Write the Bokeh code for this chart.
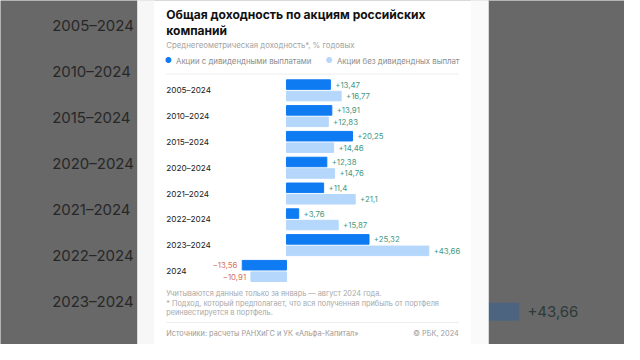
from bokeh.plotting import figure
from bokeh.models import Range1d, ColumnDataSource
from bokeh.core.properties import value
from bokeh.embed import file_html
from bokeh.resources import INLINE

# ---------------- data ----------------
categories = ["2005–2024", "2010–2024", "2015–2024", "2020–2024",
              "2021–2024", "2022–2024", "2023–2024", "2024"]
with_div = [13.47, 13.91, 20.25, 12.38, 11.4, 3.76, 25.32, -13.56]
without_div = [16.77, 12.83, 14.46, 14.76, 21.1, 15.87, 43.66, -10.91]

title_lines = ["Общая доходность по акциям российских", "компаний"]
subtitle = "Среднегеометрическая доходность*, % годовых"
legend_labels = ["Акции с дивидендными выплатами", "Акции без дивидендных выплат"]
notes = ["Учитываются данные только за январь — август 2024 года.",
         "* Подход, который предполагает, что вся полученная прибыль от портфеля",
         "реинвестируется в портфель."]
source_text = "Источники: расчеты РАНХиГС и УК «Альфа-Капитал»"
copyright_text = "© РБК, 2024"

# ---------------- styling / layout ----------------
FONT = value("Inter")
DARK = "#0f7bf2"
LIGHT = "#b5d7fb"
POS = "#3f9a84"
NEG = "#d4705c"

W, H = 624, 344
RW, RH = 640.0, 360.0      # reference layout space, scaled into the figure
K = 0.965                  # font / pixel-offset scale

X0, SX = 293.3, 3.344      # layout px of zero, px per unit
Y0, SY = 94.0, 27.0        # layout px of first category, px per category
BX0, BSX = 272.1, 5.943    # enlarged background copy
BY0, BSY = 27.0, 48.0

def px(X):
    return (X - X0) / SX

def py(Y):
    return (Y - Y0) / SY

def fs(v):
    return f"{v * K:.2f}px"

p = figure(width=W, height=H, output_backend="svg", toolbar_location=None,
           x_range=Range1d((0 - X0) / SX, (RW - X0) / SX),
           y_range=Range1d((RH - Y0) / SY, (0 - Y0) / SY),
           x_axis_location=None, y_axis_location=None, min_border=0)
p.extra_x_ranges = {"bg": Range1d((0 - BX0) / BSX, (RW - BX0) / BSX)}
p.extra_y_ranges = {"bg": Range1d((RH - BY0) / BSY, (0 - BY0) / BSY)}
p.grid.visible = False
p.outline_line_color = None
p.background_fill_color = "#686868"
p.border_fill_color = "#686868"

idx = list(range(len(categories)))
OFF, BH = 0.222, 0.37

def fmt(v):
    s = f"{abs(v):g}".replace(".", ",")
    return ("+" if v >= 0 else "−") + s

# ---------------- enlarged, dimmed background copy ----------------
bg_src = ColumnDataSource(dict(
    y_d=[i - OFF for i in idx], y_l=[i + OFF for i in idx],
    d=with_div, l=without_div))
p.hbar(y="y_d", left=0, right="d", height=BH, source=bg_src, color="#153a66",
       x_range_name="bg", y_range_name="bg")
p.hbar(y="y_l", left=0, right="l", height=BH, source=bg_src, color="#4d6480",
       x_range_name="bg", y_range_name="bg")
bg_lab_i = [i for i in idx if BY0 + BSY * i < RH - 8]
p.text(x=[(53 - BX0) / BSX] * len(bg_lab_i), y=bg_lab_i,
       text=[categories[i] for i in bg_lab_i], text_font=FONT,
       text_font_size=fs(15.5), text_color="#272727", text_baseline="middle",
       x_range_name="bg", y_range_name="bg")
# value labels of the background copy that stick out beyond the card
card_right = 500
vis = [i for i in idx if BX0 + BSX * without_div[i] > card_right]
p.text(x=[without_div[i] for i in vis], y=[i + OFF for i in vis],
       text=[fmt(without_div[i]) for i in vis], x_offset=9 * K,
       text_font=FONT, text_font_size=fs(15.5), text_color="#2b3b38",
       text_baseline="middle", x_range_name="bg", y_range_name="bg")

# ---------------- card ----------------
p.quad(left=px(141), right=px(card_right), top=py(-5), bottom=py(365),
       color="white")
p.quad(left=px(141), right=px(157), top=py(-5), bottom=py(365),
       color="#f7f7f7")
p.quad(left=px(483), right=px(card_right), top=py(-5), bottom=py(365),
       color="#fafafa")

# ---------------- bars ----------------
src = ColumnDataSource(dict(
    y_d=[i - OFF for i in idx], y_l=[i + OFF for i in idx],
    d=with_div, l=without_div,
    d_txt=[fmt(v) for v in with_div], l_txt=[fmt(v) for v in without_div],
    d_al=["left" if v >= 0 else "right" for v in with_div],
    l_al=["left" if v >= 0 else "right" for v in without_div],
    d_off=[5 * K if v >= 0 else -5 * K for v in with_div],
    l_off=[5 * K if v >= 0 else -5 * K for v in without_div],
    d_col=[POS if v >= 0 else NEG for v in with_div],
    l_col=[POS if v >= 0 else NEG for v in without_div],
))
p.hbar(y="y_d", left=0, right="d", height=BH, source=src, color=DARK)
p.hbar(y="y_l", left=0, right="l", height=BH, source=src, color=LIGHT)
p.text(x="d", y="y_d", text="d_txt", source=src, x_offset="d_off",
       text_align="d_al", text_color="d_col", text_baseline="middle",
       text_font=FONT, text_font_size=fs(8.1))
p.text(x="l", y="y_l", text="l_txt", source=src, x_offset="l_off",
       text_align="l_al", text_color="l_col", text_baseline="middle",
       text_font=FONT, text_font_size=fs(8.1))

# category labels
p.text(x=[px(170)] * len(idx), y=idx, text=categories, text_font=FONT,
       text_font_size=fs(8.5), text_color="#222222", text_baseline="middle")

# ---------------- titles, legend, notes ----------------
p.text(x=[px(170)] * 2, y=[py(15), py(31)], text=title_lines, text_font=FONT,
       text_font_size=fs(12.5), text_font_style="bold", text_color="#111111",
       text_baseline="middle")
p.text(x=[px(170)], y=[py(47)], text=[subtitle], text_font=FONT,
       text_font_size=fs(8.1), text_color="#a3a3a3", text_baseline="middle")
p.text(x=[px(172), px(337)], y=[py(63)] * 2, text=["●", "●"],
       text_color=[DARK, LIGHT], text_font=FONT, text_font_size=fs(8),
       text_align="center", text_baseline="middle")
p.text(x=[px(180), px(345)], y=[py(63)] * 2, text=legend_labels,
       text_font=FONT, text_font_size=fs(8.1), text_color="#8c8c8c",
       text_baseline="middle")
p.segment(x0=[px(170), px(170)], x1=[px(470), px(470)],
          y0=[py(77), py(337)], y1=[py(77), py(337)],
          line_color="#eeeeee", line_width=1)
p.text(x=[px(170)] * 3, y=[py(307), py(317), py(327)], text=notes,
       text_font=FONT, text_font_size=fs(7.6), text_color="#a8a8a8",
       text_baseline="middle")
p.text(x=[px(170)], y=[py(348)], text=[source_text], text_font=FONT,
       text_font_size=fs(7.6), text_color="#9a9a9a", text_baseline="middle")
p.text(x=[px(470)], y=[py(348)], text=[copyright_text], text_font=FONT,
       text_font_size=fs(7.6), text_color="#9a9a9a", text_baseline="middle",
       text_align="right")

open("out.html", "w").write(file_html(p, INLINE))
